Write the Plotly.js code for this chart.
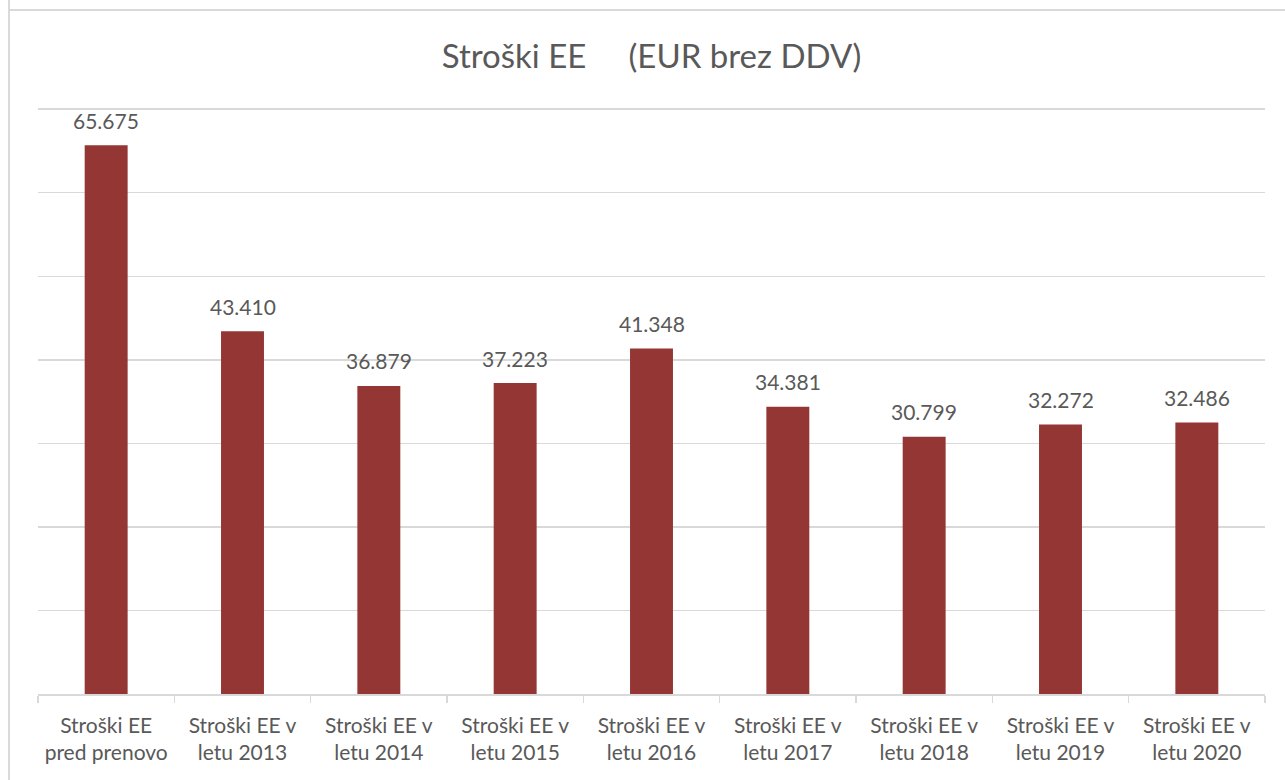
<!DOCTYPE html>
<html>
<head>
<meta charset="utf-8">
<script src="https://cdn.plot.ly/plotly-3.0.1.min.js"></script>
<style>html,body{margin:0;padding:0;background:#fff;}#chart{width:1285px;height:780px;}</style>
</head>
<body>
<div id="chart"></div>
<script>
const categories = [
  "Stroški EE<br>pred prenovo",
  "Stroški EE v<br>letu 2013",
  "Stroški EE v<br>letu 2014",
  "Stroški EE v<br>letu 2015",
  "Stroški EE v<br>letu 2016",
  "Stroški EE v<br>letu 2017",
  "Stroški EE v<br>letu 2018",
  "Stroški EE v<br>letu 2019",
  "Stroški EE v<br>letu 2020"
];
const values = [65675, 43410, 36879, 37223, 41348, 34381, 30799, 32272, 32486];
const titleText = "Stroški EE&nbsp;&nbsp;&nbsp;&nbsp;&nbsp;(EUR brez DDV)";

const font = "Lato, 'Open Sans', sans-serif";
const grey = "#595959";
const lineGrey = "#d9d9d9";

function fmt(v) {
  return String(v).replace(/\B(?=(\d{3})+(?!\d))/g, ".");
}

const trace = {
  type: "bar",
  x: categories,
  y: values,
  marker: {color: "#943634"},
  cliponaxis: false,
  hoverinfo: "x+y"
};

const labels = categories.map((c, i) => ({
  x: c,
  y: values[i],
  xref: "x",
  yref: "y",
  text: fmt(values[i]),
  showarrow: false,
  yanchor: "middle",
  yshift: 25,
  font: {family: font, size: 21, color: grey}
}));

const layout = {
  width: 1285,
  height: 780,
  margin: {l: 38, r: 20, t: 105, b: 86},
  paper_bgcolor: "#ffffff",
  plot_bgcolor: "#ffffff",
  showlegend: false,
  bargap: 0.685,
  title: {
    text: titleText,
    font: {family: font, size: 33, color: grey},
    x: 0.507, xref: "container", xanchor: "center",
    y: 0.927, yref: "container", yanchor: "middle"
  },
  xaxis: {
    type: "category",
    showline: true,
    linecolor: lineGrey,
    linewidth: 1.5,
    ticks: "outside",
    tickson: "boundaries",
    ticklen: 7,
    tickcolor: lineGrey,
    tickwidth: 1.5,
    ticklabelstandoff: 12,
    tickfont: {family: font, size: 21, color: grey},
    showgrid: false
  },
  yaxis: {
    range: [0, 70500],
    tick0: 0,
    dtick: 10000,
    showticklabels: false,
    showgrid: true,
    gridcolor: lineGrey,
    gridwidth: 1.5,
    zeroline: false,
    fixedrange: true
  },
  annotations: labels,
  shapes: [
    {type: "line", xref: "paper", yref: "paper", x0: -0.0236, x1: -0.0236, y0: 1.2, y1: -0.2, line: {color: lineGrey, width: 2}},
    {type: "line", xref: "paper", yref: "paper", x0: -0.0236, x1: 1.1, y0: 1.1613, y1: 1.1613, line: {color: lineGrey, width: 2}}
  ]
};

Plotly.newPlot("chart", [trace], layout, {displayModeBar: false, staticPlot: true});
</script>
</body>
</html>
